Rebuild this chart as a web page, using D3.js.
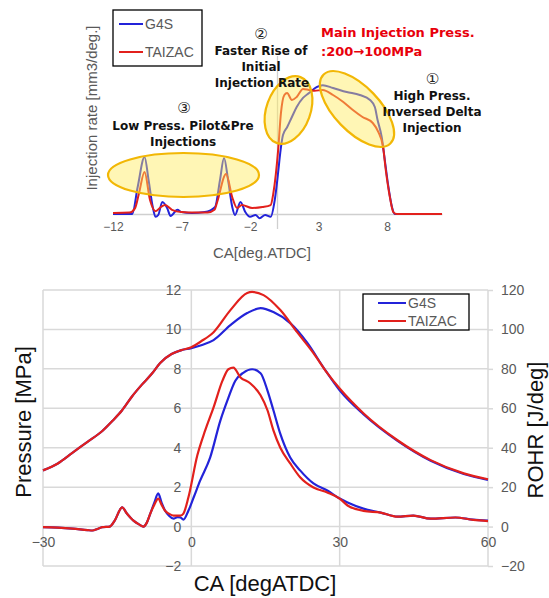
<!DOCTYPE html>
<html>
<head>
<meta charset="utf-8">
<script src="https://cdn.jsdelivr.net/npm/d3@7"></script>
<style>
  body { margin: 0; background: #fff; }
  svg { display: block; }
  .tick text { fill: #595959; font-family: "Liberation Sans", Arial, sans-serif; }
  .anno { font-family: "DejaVu Sans", Verdana, sans-serif; font-weight: bold; font-size: 12px; fill: #111; }
</style>
</head>
<body>
<script>
const w = 549;
const h = 598;

// ---- top chart: injection rate (arbitrary units, no ticks on the y axis)
const topTicks = [-12, -7, -2, 3, 8];

const rateG4S = [
  [-12, 0], [-10.6, 0], [-10.2, 1.93], [-9.7, 4.07], [-9.4, 2.4], [-9.1, 0.5], [-8.9, -0.2],
  [-8.7, -0.07], [-8.4, 0.86], [-8.05, 0.43], [-7.8, -0.14], [-7.3, 0.3], [-7.0, 0.14],
  [-6.25, 0.07], [-5.3, 0.14], [-4.55, 0.5], [-4.2, 2.4], [-3.9, 4.0], [-3.6, 2.4], [-3.3, 0.5],
  [-3.1, -0.07], [-2.7, 0.86], [-2.35, 0.14], [-2.0, -0.2], [-1.6, -0.07], [-1.3, -0.3],
  [-0.9, -0.07], [-0.5, -0.2], [-0.2, 1.0], [0.05, 3.0], [0.2, 4.36], [0.4, 5.64], [0.7, 6.2],
  [1.05, 6.93], [1.4, 7.64], [1.86, 8.29], [2.3, 8.64], [2.85, 9.07], [3.3, 9.2], [4.05, 9.0],
  [5.05, 8.71], [6.0, 8.5], [6.75, 8.14], [7.1, 7.64], [7.3, 6.71], [7.6, 5.5], [7.8, 4.07],
  [8.05, 2.2], [8.35, 0.5], [8.55, 0], [12, 0]
];

const rateTAIZAC = [
  [-12, 0.08], [-10.8, 0.1], [-10.4, 0.4], [-10.1, 1.5], [-9.7, 3.0], [-9.3, 1.0], [-8.9, 0.2],
  [-8.5, 0.5], [-8.2, 0.64], [-7.7, 0.3], [-7, 0.14], [-6, 0.1], [-5.1, 0.1], [-4.6, 0.3],
  [-4.4, 0.86], [-3.75, 2.86], [-3.3, 1.2], [-2.95, 0.43], [-2.6, 0.64], [-1.85, 0.43],
  [-1.1, 0.5], [-0.5, 0.64], [-0.3, 1.5], [0.05, 4.6], [0.25, 7.2], [0.5, 8.5], [0.7, 8.64],
  [1.05, 8.14], [1.4, 8.36], [1.86, 8.93], [2.3, 8.86], [2.7, 8.8], [3.3, 8.86], [4.05, 8.5],
  [4.8, 8.0], [5.5, 7.43], [6.2, 6.93], [6.95, 6.5], [7.35, 5.86], [7.7, 4.8], [7.9, 3.14],
  [8.2, 1.2], [8.45, 0.14], [8.7, 0], [12, 0]
];

// ---- bottom chart: cylinder pressure (MPa) and ROHR (J/deg)
const caTicks = [-30, 0, 30, 60];
const pressTicks = [-2, 0, 2, 4, 6, 8, 10, 12];
const rohrTicks = [-20, 0, 20, 40, 60, 80, 100, 120];

const pressG4S = [
  [-30, 2.85], [-27, 3.2], [-24, 3.75], [-21, 4.3], [-18, 4.85], [-16, 5.35], [-14, 5.9],
  [-12, 6.6], [-10, 7.2], [-8, 7.75], [-6.3, 8.3], [-4, 8.75], [-2, 8.95], [0, 9.05],
  [2, 9.2], [4.5, 9.46], [7.9, 10.22], [11.3, 10.83], [14, 11.08], [16.6, 10.88], [20, 10.32],
  [23.5, 9.3], [26.7, 8.08], [30, 6.91], [34.8, 5.7], [41.7, 4.35], [48.4, 3.34], [55.1, 2.67],
  [60, 2.37]
];

const pressTAIZAC = [
  [-30, 2.85], [-27, 3.2], [-24, 3.75], [-21, 4.3], [-18, 4.85], [-16, 5.35], [-14, 5.9],
  [-12, 6.6], [-10, 7.2], [-8, 7.75], [-6.3, 8.3], [-4, 8.75], [-2, 8.95], [0, 9.1],
  [2, 9.4], [4.5, 9.86], [7.9, 10.98], [11.3, 11.85], [12.3, 11.9], [14.6, 11.74], [18, 10.98],
  [21.4, 9.86], [24.7, 8.8], [27.5, 7.78], [30, 7.0], [34.8, 5.75], [41.7, 4.38], [48.4, 3.37],
  [55.1, 2.7], [60, 2.4]
];

const rohrG4S = [
  [-30, -0.3], [-27, -0.5], [-24, -1], [-21, -1.8], [-20, -2], [-19, -1.2], [-18, -0.3],
  [-16.5, 0], [-15.5, 3], [-14, 9.7], [-13, 6.5], [-11.7, 3], [-10.5, 1], [-9.7, 0], [-9, 2],
  [-8.3, 6.6], [-7.5, 12], [-6.7, 16.8], [-6, 12], [-5.3, 8], [-4.5, 5.5], [-3.6, 4],
  [-2.8, 4.8], [-2.2, 4.6], [-1.6, 3.5], [-0.6, 8], [0.5, 15], [1.8, 23.4], [3.8, 35],
  [5.9, 54], [7.3, 64], [8.9, 74], [10.5, 78], [12.3, 79.8], [14, 77.8], [15.4, 69], [16.6, 59],
  [18, 47], [20, 35], [22, 28.5], [24.7, 21.9], [27.5, 18.3], [30, 14.2], [31.6, 12.2],
  [34.8, 9.1], [38.3, 7.1], [41.7, 5], [44.9, 5.6], [48.4, 4], [53.4, 4.6], [57, 3.5], [60, 3]
];

const rohrTAIZAC = [
  [-30, -0.3], [-27, -0.5], [-24, -1], [-21, -1.8], [-20, -2], [-19, -1.2], [-18, -0.3],
  [-16.5, 0], [-15.5, 3], [-14, 9.7], [-13, 6.5], [-11.7, 3], [-10.5, 1], [-9.7, 0], [-9, 2],
  [-8.3, 6.6], [-7.5, 11], [-6.7, 14.2], [-6, 11], [-5.3, 8], [-4.5, 6.5], [-3.6, 5.6],
  [-2.2, 5.6], [-1.6, 6.6], [-0.6, 14.7], [1.2, 36], [2.8, 48.8], [4.5, 60.5], [6.3, 74],
  [7.5, 79.8], [8.5, 80.6], [9.9, 75.8], [11.9, 72.7], [14, 66.6], [15.4, 59], [16.6, 48.8],
  [18, 40], [20, 32], [22, 25], [24.7, 19.8], [27.5, 17.3], [30, 14.2], [31.6, 10.7],
  [34.8, 8], [38.3, 7.1], [41.7, 5], [44.9, 5.6], [48.4, 4], [53.4, 4.6], [57, 3.4], [60, 2.8]
];

const blue = "#2323d9";
const red = "#e2201c";
const grid = "#d9d9d9";

const svg = d3.select("body").append("svg").attr("width", w).attr("height", h);

// ================= top chart =================
const xTop = d3.scaleLinear().domain([-12, 12]).range([113, 442]);
const yTop = d3.scaleLinear().domain([0, 10]).range([214, 74]);

const topG = svg.append("g");

topG.append("line")
  .attr("x1", xTop(0)).attr("x2", xTop(0))
  .attr("y1", 56).attr("y2", 229)
  .attr("stroke", "#cfcfcf").attr("stroke-width", 1.3);

const topAxis = topG.append("g")
  .attr("transform", "translate(0," + yTop(0) + ")")
  .call(d3.axisBottom(xTop).tickValues(topTicks).tickSize(0).tickSizeOuter(0).tickPadding(8));
topAxis.select(".domain").attr("stroke", "#cfcfcf").attr("stroke-width", 1.5);
topAxis.selectAll("text").style("font-size", "12px");

const lineTop = d3.line()
  .x(d => xTop(d[0]))
  .y(d => yTop(d[1]))
  .curve(d3.curveMonotoneX);

topG.append("path").datum(rateG4S)
  .attr("d", lineTop).attr("fill", "none").attr("stroke", blue).attr("stroke-width", 2);
topG.append("path").datum(rateTAIZAC)
  .attr("d", lineTop).attr("fill", "none").attr("stroke", red).attr("stroke-width", 2);

// highlight ellipses
function ellipse(cx, cy, rx, ry, rot) {
  topG.append("ellipse")
    .attr("cx", cx).attr("cy", cy).attr("rx", rx).attr("ry", ry)
    .attr("transform", "rotate(" + rot + "," + cx + "," + cy + ")")
    .attr("fill", "rgba(255,236,90,0.45)")
    .attr("stroke", "#f2b705").attr("stroke-width", 2.2);
}
ellipse(183.5, 175, 75.5, 22, 0);
ellipse(288.5, 110, 22, 35, 20);
ellipse(357, 109, 48, 22.5, 46);

// axis titles
topG.append("text")
  .attr("transform", "translate(97,108) rotate(-90)")
  .attr("text-anchor", "middle")
  .style("font-family", "Liberation Sans, Arial, sans-serif")
  .style("font-size", "15px").style("fill", "#595959")
  .text("Injection rate [mm3/deg.]");

topG.append("text")
  .attr("x", 262).attr("y", 258)
  .attr("text-anchor", "middle")
  .style("font-family", "Liberation Sans, Arial, sans-serif")
  .style("font-size", "15px").style("fill", "#595959")
  .text("CA[deg.ATDC]");

// legend
const legTop = topG.append("g");
legTop.append("rect").attr("x", 113).attr("y", 10).attr("width", 89).attr("height", 56)
  .attr("fill", "#fff").attr("stroke", "#000").attr("stroke-width", 1.3);
[["G4S", blue, 24], ["TAIZAC", red, 52]].forEach(function (d) {
  legTop.append("line").attr("x1", 119).attr("x2", 143).attr("y1", d[2]).attr("y2", d[2])
    .attr("stroke", d[1]).attr("stroke-width", 2);
  legTop.append("text").attr("x", 145).attr("y", d[2] + 5)
    .style("font-family", "Liberation Sans, Arial, sans-serif")
    .style("font-size", "14px").style("fill", "#595959").text(d[0]);
});

// annotations
function anno(x, y, t, anchor, cls) {
  return topG.append("text").attr("class", cls || "anno")
    .attr("x", x).attr("y", y).attr("text-anchor", anchor || "middle").text(t);
}
function circled(x, y, t) {
  topG.append("text").attr("x", x).attr("y", y).attr("text-anchor", "middle")
    .style("font-family", "DejaVu Sans, sans-serif").style("font-size", "15px")
    .style("fill", "#222").text(t);
}
circled(261, 38.5, "②");
anno(261, 55, "Faster Rise of");
anno(261, 71, "Initial");
anno(262, 87, "Injection Rate");

circled(432.5, 83.5, "①");
anno(432, 100, "High Press.");
anno(432, 116, "Inversed Delta");
anno(432, 132, "Injection");

circled(184, 113, "③");
anno(183, 130, "Low Press. Pilot&Pre");
anno(183, 146, "Injections");

anno(321, 37, "Main Injection Press.", "start").style("fill", "#e8000b").style("font-size", "13px");
anno(321, 56, ":200\u2192100MPa", "start").style("fill", "#e8000b").style("font-size", "13px");

// ================= bottom chart =================
const xBot = d3.scaleLinear().domain([-30, 60]).range([43, 488]);
const yP = d3.scaleLinear().domain([-2, 12]).range([566, 290]);
const yR = d3.scaleLinear().domain([-20, 120]).range([566, 290]);

const botG = svg.append("g");

botG.selectAll(".hgrid").data(pressTicks).enter().append("line")
  .attr("x1", xBot(-30)).attr("x2", xBot(60))
  .attr("y1", d => yP(d)).attr("y2", d => yP(d))
  .attr("stroke", grid).attr("stroke-width", 1.5);
botG.selectAll(".vgrid").data(caTicks).enter().append("line")
  .attr("x1", d => xBot(d)).attr("x2", d => xBot(d))
  .attr("y1", yP(12)).attr("y2", yP(-2))
  .attr("stroke", grid).attr("stroke-width", 1.5);

const leftAxis = botG.append("g")
  .attr("transform", "translate(" + xBot(0) + ",0)")
  .call(d3.axisLeft(yP).tickValues(pressTicks).tickSize(0).tickPadding(10));
const rightAxis = botG.append("g")
  .attr("transform", "translate(" + xBot(60) + ",0)")
  .call(d3.axisRight(yR).tickValues(rohrTicks).tickSize(5).tickPadding(8));
const bottomAxis = botG.append("g")
  .attr("transform", "translate(0," + yP(0) + ")")
  .call(d3.axisBottom(xBot).tickValues(caTicks).tickSize(0).tickPadding(10));

[leftAxis, rightAxis, bottomAxis].forEach(function (a) {
  a.select(".domain").remove();
  a.selectAll("line").attr("stroke", grid).attr("stroke-width", 1.5);
  a.selectAll("text").style("font-size", "14px");
});

const linePress = d3.line().x(d => xBot(d[0])).y(d => yP(d[1])).curve(d3.curveMonotoneX);
const lineRohr = d3.line().x(d => xBot(d[0])).y(d => yR(d[1])).curve(d3.curveMonotoneX);

botG.append("path").datum(pressG4S).attr("d", linePress)
  .attr("fill", "none").attr("stroke", blue).attr("stroke-width", 2.2);
botG.append("path").datum(rohrG4S).attr("d", lineRohr)
  .attr("fill", "none").attr("stroke", blue).attr("stroke-width", 2.2);
botG.append("path").datum(pressTAIZAC).attr("d", linePress)
  .attr("fill", "none").attr("stroke", red).attr("stroke-width", 2.2);
botG.append("path").datum(rohrTAIZAC).attr("d", lineRohr)
  .attr("fill", "none").attr("stroke", red).attr("stroke-width", 2.2);

// legend
const legBot = botG.append("g");
legBot.append("rect").attr("x", 363).attr("y", 294).attr("width", 106).attr("height", 36)
  .attr("fill", "#fff").attr("stroke", "#000").attr("stroke-width", 1.3);
[["G4S", blue, 303], ["TAIZAC", red, 321]].forEach(function (d) {
  legBot.append("line").attr("x1", 378).attr("x2", 406).attr("y1", d[2]).attr("y2", d[2])
    .attr("stroke", d[1]).attr("stroke-width", 2);
  legBot.append("text").attr("x", 408).attr("y", d[2] + 5)
    .style("font-family", "Liberation Sans, Arial, sans-serif")
    .style("font-size", "14px").style("fill", "#595959").text(d[0]);
});

// axis titles
const titleFont = "Liberation Sans, Arial, sans-serif";
botG.append("text")
  .attr("transform", "translate(31,422) rotate(-90)")
  .attr("text-anchor", "middle")
  .style("font-family", titleFont).style("font-size", "22px").style("fill", "#111")
  .text("Pressure [MPa]");
botG.append("text")
  .attr("transform", "translate(543,430) rotate(-90)")
  .attr("text-anchor", "middle")
  .style("font-family", titleFont).style("font-size", "22px").style("fill", "#111")
  .text("ROHR [J/deg]");
botG.append("text")
  .attr("x", 265).attr("y", 591)
  .attr("text-anchor", "middle")
  .style("font-family", titleFont).style("font-size", "22px").style("fill", "#111")
  .text("CA [degATDC]");
</script>
</body>
</html>
